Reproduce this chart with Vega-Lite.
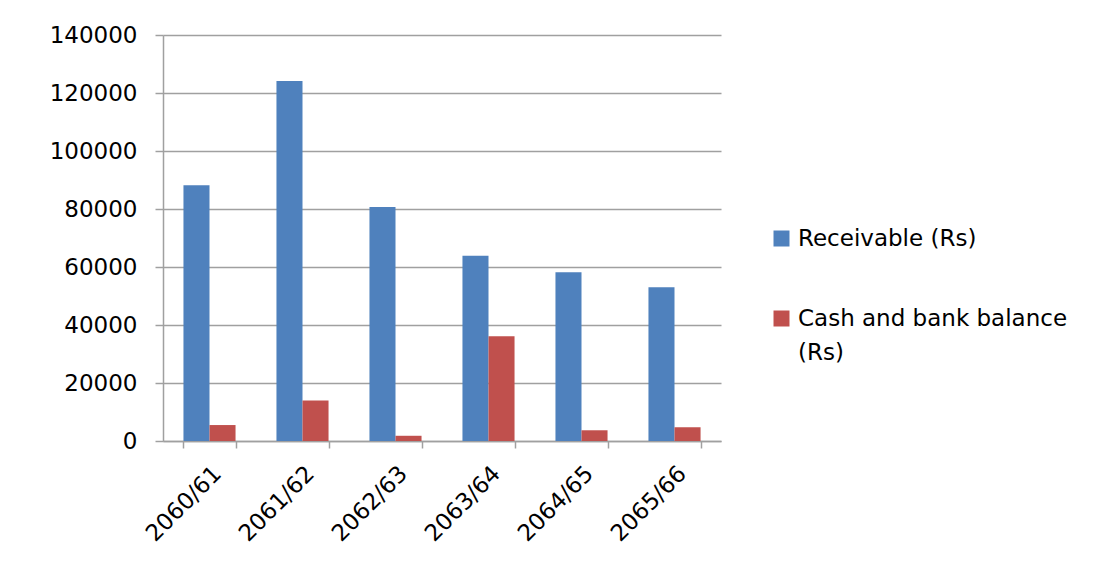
{
  "$schema": "https://vega.github.io/schema/vega-lite/v6.json",
  "autosize": "none",
  "padding": {"left": 163, "top": 35, "right": 384, "bottom": 139},
  "width": 558,
  "height": 406,
  "background": "white",
  "data": {
    "values": [
      {"year": "2060/61", "series": "Receivable (Rs)", "value": 88200},
      {"year": "2060/61", "series": "Cash and bank balance (Rs)", "value": 5500},
      {"year": "2061/62", "series": "Receivable (Rs)", "value": 124100},
      {"year": "2061/62", "series": "Cash and bank balance (Rs)", "value": 14000},
      {"year": "2062/63", "series": "Receivable (Rs)", "value": 80700},
      {"year": "2062/63", "series": "Cash and bank balance (Rs)", "value": 1800},
      {"year": "2063/64", "series": "Receivable (Rs)", "value": 63900},
      {"year": "2063/64", "series": "Cash and bank balance (Rs)", "value": 36100},
      {"year": "2064/65", "series": "Receivable (Rs)", "value": 58200},
      {"year": "2064/65", "series": "Cash and bank balance (Rs)", "value": 3700},
      {"year": "2065/66", "series": "Receivable (Rs)", "value": 53000},
      {"year": "2065/66", "series": "Cash and bank balance (Rs)", "value": 4700}
    ]
  },
  "mark": {"type": "bar"},
  "encoding": {
    "x": {
      "field": "year",
      "type": "nominal",
      "sort": null,
      "scale": {"paddingInner": 0.44, "paddingOuter": 0.22},
      "axis": {
        "title": null,
        "labelAngle": -45,
        "labelAlign": "right",
        "labelBaseline": "top",
        "labelFont": "DejaVu Sans",
        "labelFontSize": 23,
        "labelColor": "#000000",
        "labelPadding": 14,
        "tickSize": 7,
        "tickBand": "extent",
        "tickColor": "#a0a0a0",
        "tickWidth": 1.5,
        "domainColor": "#a0a0a0",
        "domainWidth": 1.5,
        "grid": false
      }
    },
    "y": {
      "field": "value",
      "type": "quantitative",
      "scale": {"domain": [0, 140000], "nice": false},
      "axis": {
        "title": null,
        "values": [0, 20000, 40000, 60000, 80000, 100000, 120000, 140000],
        "format": "d",
        "labelFont": "DejaVu Sans",
        "labelFontSize": 23,
        "labelColor": "#000000",
        "labelPadding": 18,
        "tickSize": 8,
        "tickColor": "#a0a0a0",
        "tickWidth": 1.5,
        "domainColor": "#a0a0a0",
        "domainWidth": 1.5,
        "grid": true,
        "gridColor": "#a0a0a0",
        "gridWidth": 1.5
      }
    },
    "xOffset": {
      "field": "series",
      "type": "nominal",
      "sort": ["Receivable (Rs)", "Cash and bank balance (Rs)"],
      "scale": {"paddingInner": 0, "paddingOuter": 0}
    },
    "color": {
      "field": "series",
      "type": "nominal",
      "scale": {
        "domain": ["Receivable (Rs)", "Cash and bank balance (Rs)"],
        "range": ["#4F81BD", "#C0504D"]
      },
      "legend": {
        "title": null,
        "orient": "none",
        "legendX": 607,
        "legendY": 192,
        "padding": 0,
        "symbolType": "square",
        "symbolSize": 256,
        "symbolStrokeWidth": 0,
        "symbolOpacity": 1,
        "labelFont": "DejaVu Sans",
        "labelFontSize": 23,
        "labelColor": "#000000",
        "labelOffset": 5,
        "labelLimit": 400,
        "labelBaseline": "middle",
        "rowPadding": 56,
        "labelExpr": "datum.label == 'Cash and bank balance (Rs)' ? ['Cash and bank balance', '(Rs)'] : datum.label"
      }
    }
  },
  "config": {
    "view": {"stroke": null},
    "style": {"guide-label": {"lineHeight": 34}}
  }
}
